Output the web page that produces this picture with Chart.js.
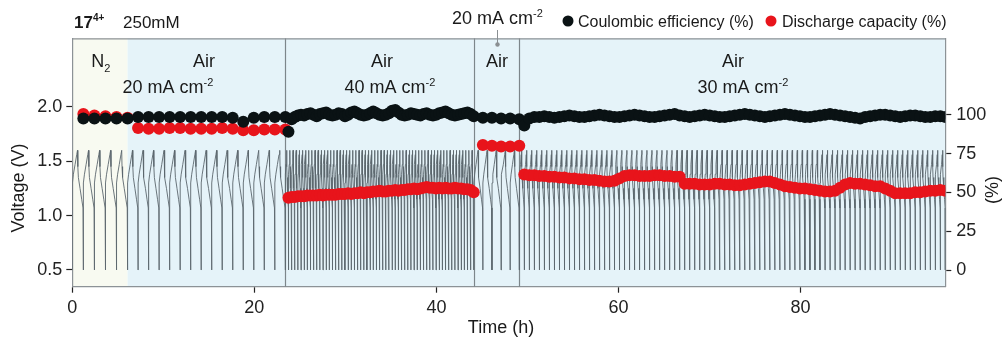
<!DOCTYPE html>
<html>
<head>
<meta charset="utf-8">
<script src="https://cdn.jsdelivr.net/npm/chart.js@4/dist/chart.umd.min.js"></script>
<style>
  html, body { margin: 0; padding: 0; background: #fff; }
  canvas { display: block; }
</style>
</head>
<body>
<canvas id="cycleChart" width="1005" height="340"></canvas>
<script>
// segments of the test (time in h)
const segStart = [0, 6.07, 23.4, 44.1, 49.1];
const segEnd = [6.07, 23.4, 44.1, 49.1, 95.9];
const segCycles = [5, 15, 60, 5, 85];
const segGas = ['N2', 'Air', 'Air', 'Air', 'Air'];
const segCurrent = ['', '20', '40', '20', '30'];

// one charge/discharge cycle (fraction of cycle, V)
const cycleFrac = [0, 0.01, 0.1, 0.25, 0.4, 0.47, 0.5, 0.55, 0.7, 0.85, 0.97, 1.0];
const cycleVolt = [0.5, 1.3, 1.38, 1.47, 1.56, 1.6, 1.45, 1.35, 1.25, 1.15, 1.07, 0.5];

// coulombic efficiency (%) per cycle
const ceN2 = [97.5, 97.5, 97.5, 97.5, 97.5];
const ce20a = [98.5, 98.5, 98.5, 98.5, 98.5, 98.5, 98.5, 98.5, 98.5, 98, 95.5, 98, 98.5, 98.5, 98.5];
const ce40 = [89, 97, 98.5, 99.5, 100, 99.5, 100.5, 101, 100, 99,
  100.5, 101, 101.5, 100, 99.5, 100, 101, 100.5, 99, 100,
  101.5, 102, 101, 100, 99.5, 100, 101, 102, 101, 100,
  99.5, 100, 101, 102.5, 103, 101.5, 100, 99.5, 100, 101,
  100.5, 100, 99.5, 100.5, 101, 100, 99.5, 100, 101, 101.5,
  102, 101, 100, 99.5, 100, 100.5, 101, 101.5, 100.5, 99];
const ce20b = [98, 98, 97.5, 97.5, 97];
const ce30 = [93, 97.5, 98.5, 98.5, 99, 98.5, 98, 98.5, 99, 99.5,
  99, 98.5, 98.5, 99, 99.5, 100, 99.5, 99, 98.5, 98.5,
  99, 99.5, 100, 99.5, 99, 98.5, 98.5, 99, 99.5, 100,
  100.5, 99.5, 99, 98.5, 99, 99.5, 100, 99.5, 99, 98.5,
  98.5, 99, 99.5, 100, 100.5, 100, 99.5, 99, 98.5, 99,
  99.5, 100, 100.5, 100, 99.5, 99, 98.5, 98.5, 99, 99.5,
  100, 100.5, 100, 99.5, 99, 98.5, 98, 97.5, 98.5, 99,
  99.5, 100, 100, 99.5, 99, 98.5, 99, 99.5, 99.5, 99,
  98.5, 98.5, 99, 99, 98.5];

// discharge capacity (%) per cycle
const capN2 = [100.5, 99.5, 99, 98.5, 98];
const cap20a = [91.5, 91, 91, 91.5, 91.5, 91, 91, 91, 91.5, 91, 90, 90, 90.5, 90.5, 90.5];
const cap40 = [46.5, 47, 47, 47.5, 47.5, 47.5, 48, 48, 48, 48,
  48.5, 48, 48.5, 48.5, 48.5, 48.5, 49, 49, 49, 49.5,
  49, 49.5, 49.5, 50, 49.5, 50, 50, 50.5, 50.5, 51,
  50.5, 50.5, 51, 51, 51.5, 51, 51.5, 51.5, 52, 52,
  52.5, 52, 52.5, 53, 53.5, 53, 53, 52.5, 53, 52.5,
  53, 52.5, 52.5, 53, 52.5, 52.5, 52, 52, 51.5, 50];
const cap20b = [80.5, 80, 79.5, 79.5, 80];
const cap30 = [61.5, 61, 61, 60.5, 60.5, 60, 60, 59.5, 59.5, 59,
  59, 58.5, 58.5, 58, 58, 57.5, 57, 57, 57.5, 59,
  60.5, 61, 61, 60.5, 60.5, 60.5, 61, 61, 60.5, 60.5,
  60, 60, 55.5, 55.5, 55.5, 55, 55, 55, 55.5, 55.5,
  55, 55, 54.5, 54.5, 55, 55.5, 56, 56.5, 57, 57,
  56, 55, 54, 53.5, 53, 52.5, 52.5, 52, 51.5, 51,
  50.5, 50.5, 51, 53, 55, 56, 55.5, 55.5, 55, 54.5,
  54, 54, 52.5, 51, 49.5, 49.5, 49.5, 49.5, 50, 50,
  50.5, 51, 51, 51.5, 51];

const ceSeg = [ceN2, ce20a, ce40, ce20b, ce30];
const capSeg = [capN2, cap20a, cap40, cap20b, cap30];

const xTicks = [0, 20, 40, 60, 80];
const voltTicks = [0.5, 1.0, 1.5, 2.0];
const pctTicks = [0, 25, 50, 75, 100];

const FONT = '"Liberation Sans", Arial, Helvetica, sans-serif';
const AXIS_GREY = '#8c9296';

// build point lists
const voltPts = [];
const cePts = [];
const capPts = [];
for (let s = 0; s < segStart.length; s++) {
  const period = (segEnd[s] - segStart[s]) / segCycles[s];
  for (let c = 0; c < segCycles[s]; c++) {
    const t0 = segStart[s] + c * period;
    for (let k = 0; k < cycleFrac.length; k++) {
      voltPts.push({x: t0 + cycleFrac[k] * period, y: cycleVolt[k]});
    }
    cePts.push({x: t0 + period, y: ceSeg[s][c]});
    capPts.push({x: t0 + period, y: capSeg[s][c]});
  }
}

// text with sub/superscript pieces
function richText(ctx, parts, x, y, align) {
  let w = 0;
  parts.forEach(p => { ctx.font = p.f; w += ctx.measureText(p.t).width; });
  let cx = align === 'center' ? x - w / 2 : (align === 'right' ? x - w : x);
  ctx.textAlign = 'left';
  ctx.textBaseline = 'alphabetic';
  parts.forEach(p => {
    ctx.font = p.f;
    ctx.fillText(p.t, cx, y + (p.dy || 0));
    cx += ctx.measureText(p.t).width;
  });
}

const decorPlugin = {
  id: 'decor',
  beforeDraw(chart) {
    const {ctx, chartArea: a, scales} = chart;
    const xs = scales.x;
    ctx.save();
    for (let s = 0; s < segStart.length; s++) {
      const x0 = xs.getPixelForValue(segStart[s]);
      const x1 = xs.getPixelForValue(segEnd[s]);
      ctx.fillStyle = segGas[s] === 'N2' ? 'rgb(248,250,241)' : 'rgb(229,243,249)';
      ctx.fillRect(x0, a.top, x1 - x0, a.bottom - a.top);
    }
    ctx.restore();
  },
  beforeDatasetsDraw(chart) {
    const {ctx, chartArea: a, scales} = chart;
    const xs = scales.x;
    ctx.save();
    ctx.strokeStyle = '#7d868b';
    ctx.lineWidth = 1.2;
    for (let s = 2; s < segStart.length; s++) {
      const px = Math.round(xs.getPixelForValue(segStart[s])) + 0.5;
      ctx.beginPath();
      ctx.moveTo(px, a.top);
      ctx.lineTo(px, a.bottom);
      ctx.stroke();
    }
    ctx.strokeStyle = AXIS_GREY;
    ctx.lineWidth = 1.2;
    ctx.beginPath();
    ctx.moveTo(a.left, a.top + 0.5);
    ctx.lineTo(a.right, a.top + 0.5);
    ctx.stroke();
    ctx.restore();
  },
  afterDraw(chart) {
    const {ctx, scales} = chart;
    const xs = scales.x;
    const f18 = '18px ' + FONT;
    const sup = '11px ' + FONT;
    ctx.save();
    ctx.fillStyle = '#1a1a1a';

    // segment labels
    const mid = s => (xs.getPixelForValue(segStart[s]) + xs.getPixelForValue(segEnd[s])) / 2;
    richText(ctx, [{t: 'N', f: f18}, {t: '2', f: sup, dy: 5}], mid(0) + 1, 67, 'center');
    const airX = [204, 382, 497, 733];
    const curX = [168, 390, 0, 743];
    for (let s = 1; s < segStart.length; s++) {
      richText(ctx, [{t: 'Air', f: f18}], airX[s - 1], 67, 'center');
      if (s !== 3) {
        richText(ctx, [{t: segCurrent[s] + ' mA cm', f: f18}, {t: '-2', f: sup, dy: -7}], curX[s - 1], 93, 'center');
      }
    }
    // label above the short segment
    const lx = Math.round(mid(3)) + 0.5;
    richText(ctx, [{t: '20 mA cm', f: f18}, {t: '-2', f: sup, dy: -7}], lx, 24, 'center');
    ctx.strokeStyle = '#8a8f92';
    ctx.lineWidth = 1;
    ctx.beginPath();
    ctx.moveTo(lx, 30);
    ctx.lineTo(lx, 44);
    ctx.stroke();
    ctx.fillStyle = '#8a8f92';
    ctx.beginPath();
    ctx.arc(lx, 44.5, 2.2, 0, Math.PI * 2);
    ctx.fill();

    // title
    ctx.fillStyle = '#1a1a1a';
    richText(ctx, [{t: '17', f: 'bold 17px ' + FONT}, {t: '4+', f: 'bold 10px ' + FONT, dy: -7}], 74, 28, 'left');
    richText(ctx, [{t: '250mM', f: '17px ' + FONT}], 123, 28, 'left');

    // legend
    ctx.fillStyle = '#0a1214';
    ctx.beginPath(); ctx.arc(568, 21, 5.5, 0, Math.PI * 2); ctx.fill();
    ctx.fillStyle = '#e8141b';
    ctx.beginPath(); ctx.arc(771, 21, 5.5, 0, Math.PI * 2); ctx.fill();
    ctx.fillStyle = '#1a1a1a';
    richText(ctx, [{t: 'Coulombic efficiency (%)', f: '16px ' + FONT}], 578, 27, 'left');
    richText(ctx, [{t: 'Discharge capacity (%)', f: '16px ' + FONT}], 782, 27, 'left');

    // axis titles
    ctx.font = '18px ' + FONT;
    ctx.textAlign = 'center';
    ctx.textBaseline = 'middle';
    ctx.fillText('Time (h)', 501, 328);
    ctx.save();
    ctx.translate(19, 188);
    ctx.rotate(-Math.PI / 2);
    ctx.fillText('Voltage (V)', 0, 0);
    ctx.restore();
    ctx.save();
    ctx.translate(993, 190);
    ctx.rotate(-Math.PI / 2);
    ctx.fillText('(%)', 0, 0);
    ctx.restore();
    ctx.restore();
  }
};

const axisGrid = {drawOnChartArea: false, drawTicks: true, tickLength: 6, tickColor: '#222', tickWidth: 1.2};
const axisBorder = {display: true, color: AXIS_GREY, width: 1.2};
const tickFont = {family: FONT, size: 18};

const cycleConfig = {
  type: 'scatter',
  data: {
    datasets: [
      {
        label: 'Coulombic efficiency (%)',
        data: cePts,
        yAxisID: 'y2',
        backgroundColor: '#0a1214',
        borderWidth: 0,
        pointRadius: 6,
        order: 1
      },
      {
        label: 'Discharge capacity (%)',
        data: capPts,
        yAxisID: 'y2',
        backgroundColor: '#e8141b',
        borderWidth: 0,
        pointRadius: 6,
        order: 2
      },
      {
        type: 'line',
        label: 'Voltage',
        data: voltPts,
        yAxisID: 'y',
        borderColor: '#5b676d',
        borderWidth: 0.9,
        pointRadius: 0,
        tension: 0,
        order: 3
      }
    ]
  },
  options: {
    responsive: false,
    devicePixelRatio: 1,
    animation: false,
    parsing: false,
    layout: {padding: {top: 38.3, left: 0, right: 0, bottom: 0}},
    plugins: {legend: {display: false}, tooltip: {enabled: false}, title: {display: false}},
    scales: {
      x: {
        type: 'linear',
        min: 0,
        max: 95.9,
        grid: axisGrid,
        border: axisBorder,
        ticks: {font: tickFont, color: '#222', padding: 5, maxRotation: 0},
        afterBuildTicks: sc => { sc.ticks = xTicks.map(v => ({value: v})); },
        afterFit: sc => { sc.height = 340 - 286.7; }
      },
      y: {
        type: 'linear',
        position: 'left',
        min: 0.346,
        max: 2.63,
        grid: axisGrid,
        border: axisBorder,
        ticks: {font: tickFont, color: '#222', padding: 4, callback: v => v.toFixed(1)},
        afterBuildTicks: sc => { sc.ticks = voltTicks.map(v => ({value: v})); },
        afterFit: sc => { sc.width = 72.3; }
      },
      y2: {
        type: 'linear',
        position: 'right',
        min: -10.75,
        max: 149.2,
        grid: axisGrid,
        border: axisBorder,
        ticks: {font: tickFont, color: '#222', padding: 5},
        afterBuildTicks: sc => { sc.ticks = pctTicks.map(v => ({value: v})); },
        afterFit: sc => { sc.width = 1005 - 945.3; }
      }
    }
  },
  plugins: [decorPlugin]
};

const cycleChart = new Chart(document.getElementById('cycleChart'), cycleConfig);
</script>
</body>
</html>
